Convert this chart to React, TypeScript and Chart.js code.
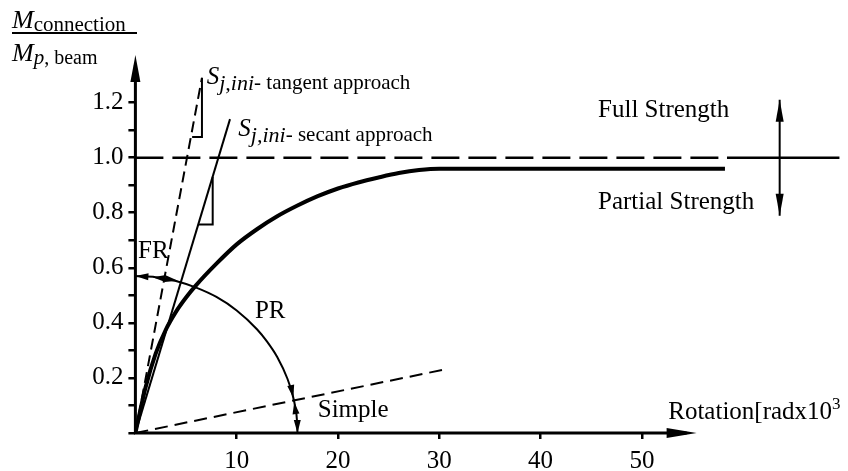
import React, { useEffect, useRef } from 'react';
import { Chart, registerables } from 'chart.js';

Chart.register(...registerables);

// ---------- data (rotation in rad x 10^3, moment ratio) ----------
const curveRotation = [0, 1, 2, 3, 4, 5, 6, 8, 10, 12, 14, 16, 18, 20, 22, 24, 26, 28, 30, 58.2];
const curveMoment = [0, 0.165, 0.288, 0.375, 0.44, 0.492, 0.537, 0.615, 0.685, 0.74, 0.787, 0.826, 0.86, 0.888, 0.91, 0.928, 0.944, 0.955, 0.96, 0.96];

const arcRotation = [0, 2, 4, 6, 8, 10, 12, 13, 14, 15, 15.5, 15.8, 15.95, 16];
const arcMoment = [0.57, 0.566, 0.552, 0.528, 0.494, 0.445, 0.377, 0.332, 0.276, 0.198, 0.141, 0.09, 0.045, 0];

const tangentRotation = [0, 6.57];
const tangentMoment = [0, 1.29];
const secantRotation = [0, 9.34];
const secantMoment = [0, 1.14];
const simpleRotation = [0, 30.7];
const simpleMoment = [0, 0.232];

const tangentTriRotation = [6.57, 6.57, 5.6];
const tangentTriMoment = [1.29, 1.075, 1.075];
const secantTriRotation = [7.63, 7.63, 6.2];
const secantTriMoment = [0.931, 0.757, 0.757];

const fullDashedRotation = [0, 58.4];
const fullSolidRotation = [58.4, 69.5];
const fullLevel = [1.0, 1.0];

const strengthArrowRotation = [63.6, 63.6];
const strengthArrowMoment = [1.21, 0.789];

const xTicks = [10, 20, 30, 40, 50];
const yTicks = [0, 0.1, 0.2, 0.3, 0.4, 0.5, 0.6, 0.7, 0.8, 0.9, 1.0, 1.1, 1.2];
const yLabelled = [0.2, 0.4, 0.6, 0.8, 1.0, 1.2];

const SERIF = '"Liberation Serif", "Times New Roman", serif';

const zip = (xs: number[], ys: number[]) => xs.map((x, i) => ({ x, y: ys[i] }));

type Head = { tip: [number, number]; from: [number, number]; len: number; w: number };
const arrowHeads: Head[] = [
  { tip: [0, 1.373], from: [0, 1.0], len: 27, w: 5 },
  { tip: [55.4, 0], from: [50, 0], len: 30, w: 5 },
  { tip: [63.6, 1.21], from: [63.6, 1.0], len: 22, w: 4 },
  { tip: [63.6, 0.789], from: [63.6, 1.0], len: 22, w: 4 },
  { tip: [0, 0.57], from: [1, 0.568], len: 13, w: 3.5 },
  { tip: [1.7, 0.566], from: [2.7, 0.562], len: 13, w: 3.5 },
  { tip: [4.2, 0.553], from: [3.2, 0.559], len: 13, w: 3.5 },
  { tip: [15.6, 0.127], from: [15.35, 0.17], len: 13, w: 3.5 },
  { tip: [15.68, 0.112], from: [15.85, 0.07], len: 12, w: 3.5 },
  { tip: [16, 0], from: [15.98, 0.05], len: 13, w: 3.5 },
];

type Part = { t: string; f: string; dy?: number };
type Label = { x: number; y: number; parts: Part[] };
const labels: Label[] = [
  { x: 45.67, y: 1.149, parts: [{ t: 'Full Strength', f: `25px ${SERIF}` }] },
  { x: 45.67, y: 0.812, parts: [{ t: 'Partial Strength', f: `25px ${SERIF}` }] },
  { x: 0.26, y: 0.636, parts: [{ t: 'FR', f: `25px ${SERIF}` }] },
  { x: 11.8, y: 0.417, parts: [{ t: 'PR', f: `25px ${SERIF}` }] },
  { x: 18.0, y: 0.057, parts: [{ t: 'Simple', f: `25px ${SERIF}` }] },
  {
    x: 52.6,
    y: 0.052,
    parts: [
      { t: 'Rotation[radx10', f: `25px ${SERIF}` },
      { t: '3', f: `17px ${SERIF}`, dy: -10 },
    ],
  },
  {
    x: 7.04,
    y: 1.2665,
    parts: [
      { t: 'S', f: `italic 25px ${SERIF}` },
      { t: 'j,ini', f: `italic 22px ${SERIF}`, dy: 6 },
      { t: '- tangent approach', f: `21px ${SERIF}`, dy: 5 },
    ],
  },
  {
    x: 10.16,
    y: 1.078,
    parts: [
      { t: 'S', f: `italic 25px ${SERIF}` },
      { t: 'j,ini', f: `italic 22px ${SERIF}`, dy: 6 },
      { t: '- secant approach', f: `21px ${SERIF}`, dy: 5 },
    ],
  },
];

function drawParts(ctx: CanvasRenderingContext2D, parts: Part[], x: number, y: number) {
  let cx = x;
  for (const p of parts) {
    ctx.font = p.f;
    ctx.fillText(p.t, cx, y + (p.dy || 0));
    cx += ctx.measureText(p.t).width;
  }
}

const annotationPlugin = {
  id: 'annotations',
  afterDatasetsDraw(chart: any) {
    const ctx: CanvasRenderingContext2D = chart.ctx;
    const xs = chart.scales.x;
    const ys = chart.scales.y;
    const px = (v: number) => xs.getPixelForValue(v);
    const py = (v: number) => ys.getPixelForValue(v);
    ctx.save();
    ctx.strokeStyle = '#000';
    ctx.fillStyle = '#000';
    ctx.lineCap = 'butt';

    // axes
    ctx.lineWidth = 3;
    ctx.beginPath();
    ctx.moveTo(px(0), py(0) + 1.5);
    ctx.lineTo(px(0), py(1.373) + 10);
    ctx.moveTo(px(0) - 1.5, py(0));
    ctx.lineTo(px(55.4) - 10, py(0));
    ctx.stroke();

    // arrow heads
    for (const h of arrowHeads) {
      const tx = px(h.tip[0]);
      const ty = py(h.tip[1]);
      const fx = px(h.from[0]);
      const fy = py(h.from[1]);
      const a = Math.atan2(ty - fy, tx - fx);
      const bx = tx - Math.cos(a) * h.len;
      const by = ty - Math.sin(a) * h.len;
      const nx = -Math.sin(a) * h.w;
      const ny = Math.cos(a) * h.w;
      ctx.beginPath();
      ctx.moveTo(tx, ty);
      ctx.lineTo(bx + nx, by + ny);
      ctx.lineTo(bx - nx, by - ny);
      ctx.closePath();
      ctx.fill();
    }

    // labels
    ctx.textBaseline = 'alphabetic';
    ctx.textAlign = 'left';
    for (const l of labels) drawParts(ctx, l.parts, px(l.x), py(l.y));

    // y axis title (fraction)
    drawParts(ctx, [
      { t: 'M', f: `italic 26px ${SERIF}` },
      { t: 'connection', f: `21px ${SERIF}`, dy: 3 },
    ], 12, 28);
    ctx.lineWidth = 2;
    ctx.beginPath();
    ctx.moveTo(12, 33);
    ctx.lineTo(137, 33);
    ctx.stroke();
    drawParts(ctx, [
      { t: 'M', f: `italic 26px ${SERIF}` },
      { t: 'p', f: `italic 21px ${SERIF}`, dy: 3 },
      { t: ', beam', f: `20px ${SERIF}`, dy: 3 },
    ], 12, 61);

    ctx.restore();
  },
};

export default function App() {
  const canvasRef = useRef<HTMLCanvasElement | null>(null);

  useEffect(() => {
    if (!canvasRef.current) return;
    const base = {
      borderColor: '#000',
      backgroundColor: '#000',
      pointRadius: 0,
      fill: false,
      tension: 0,
      borderCapStyle: 'butt' as const,
    };
    const tickFont = { family: SERIF, size: 25 };
    const chart = new Chart(canvasRef.current, {
      type: 'line',
      data: {
        datasets: [
          { ...base, data: zip(curveRotation, curveMoment), borderWidth: 4, cubicInterpolationMode: 'monotone' },
          { ...base, data: zip(arcRotation, arcMoment), borderWidth: 2, cubicInterpolationMode: 'monotone' },
          { ...base, data: zip(tangentRotation, tangentMoment), borderWidth: 2, borderDash: [11, 6] },
          { ...base, data: zip(secantRotation, secantMoment), borderWidth: 2 },
          { ...base, data: zip(simpleRotation, simpleMoment), borderWidth: 2, borderDash: [13, 7] },
          { ...base, data: zip(tangentTriRotation, tangentTriMoment), borderWidth: 2 },
          { ...base, data: zip(secantTriRotation, secantTriMoment), borderWidth: 2 },
          { ...base, data: zip(fullDashedRotation, fullLevel), borderWidth: 2.5, borderDash: [28, 9] },
          { ...base, data: zip(fullSolidRotation, fullLevel), borderWidth: 2.5 },
          { ...base, data: zip(strengthArrowRotation, strengthArrowMoment), borderWidth: 2 },
        ] as any,
      },
      options: {
        animation: false,
        responsive: true,
        maintainAspectRatio: false,
        layout: { padding: { left: 0, right: 3.5, top: 9, bottom: 0 } },
        plugins: { legend: { display: false }, tooltip: { enabled: false } },
        scales: {
          x: {
            type: 'linear',
            min: 0,
            max: 70,
            afterFit: (s: any) => { s.height = 38; },
            afterBuildTicks: (a: any) => { a.ticks = xTicks.map((v) => ({ value: v })); },
            ticks: {
              font: tickFont,
              color: '#000',
              padding: 7,
              maxRotation: 0,
              autoSkip: false,
              callback: (v: any) => String(v),
            },
            grid: { drawOnChartArea: false, drawTicks: true, tickLength: 6, color: '#000', lineWidth: 2.5 },
            border: { display: false },
          },
          y: {
            type: 'linear',
            min: 0,
            max: 1.5,
            afterFit: (s: any) => { s.width = 135.4; },
            afterBuildTicks: (a: any) => { a.ticks = yTicks.map((v) => ({ value: v })); },
            ticks: {
              font: tickFont,
              color: '#000',
              padding: 5,
              autoSkip: false,
              callback: (v: any) => (yLabelled.some((l) => Math.abs(l - v) < 1e-6) ? Number(v).toFixed(1) : ''),
            },
            grid: { drawOnChartArea: false, drawTicks: true, tickLength: 7, color: '#000', lineWidth: 2.5 },
            border: { display: false },
          },
        },
      } as any,
      plugins: [annotationPlugin],
    });
    return () => chart.destroy();
  }, []);

  return (
    <div style={{ position: 'absolute', left: 0, top: 0, width: 848, height: 471, background: '#fff' }}>
      <canvas ref={canvasRef} />
    </div>
  );
}
